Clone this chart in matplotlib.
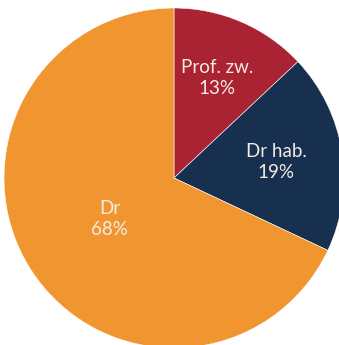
import numpy as np
import matplotlib.pyplot as plt

names = ['Prof. zw.', 'Dr hab.', 'Dr']
shares = [13, 19, 68]
colors = ['#AA2333', '#17304F', '#F0952F']
dist = [0.64, 0.61, 0.45]

fig = plt.figure(figsize=(3.39, 3.45), dpi=100)
cx, cy, r = 174, 345 - 178, 170
ax = fig.add_axes([(cx - r) / 339, (cy - r) / 345, 2 * r / 339, 2 * r / 345])

wedges, texts = ax.pie(shares, colors=colors, startangle=90, counterclock=False,
                       radius=1, wedgeprops=dict(edgecolor='white', linewidth=0.4))
ax.set_xlim(-1, 1)
ax.set_ylim(-1, 1)
ax.set_aspect('equal')
ax.axis('off')

for w, n, s, d in zip(wedges, names, shares, dist):
    a = np.deg2rad((w.theta1 + w.theta2) / 2)
    ax.text(d * np.cos(a), d * np.sin(a), '%s\n%d%%' % (n, s), ha='center', va='center',
            color='#F3ECE4', fontsize=13.5, family='Lato', linespacing=1.3)

fig.savefig('out.png', dpi=100)
